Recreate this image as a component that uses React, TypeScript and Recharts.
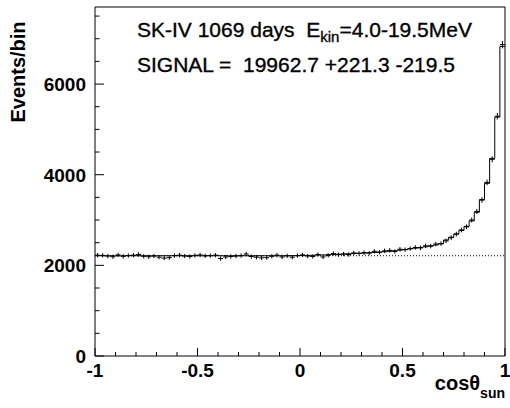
import React from 'react'
import { ComposedChart, Line, Scatter, ErrorBar, XAxis, YAxis, ReferenceLine } from 'recharts'

// 80 bins in cos(theta_sun), width 0.025
const BIN_LO = -1
const BIN_W = 0.025
const BACKGROUND = 2212

// fitted histogram (background + solar signal), per bin
const FIT = [
  2212, 2212, 2212, 2212, 2212, 2212, 2212, 2212, 2212, 2212,
  2212, 2212, 2212, 2212, 2212, 2212, 2212, 2212, 2212, 2212,
  2212, 2212, 2212, 2212, 2212, 2212, 2212, 2212, 2212, 2212,
  2212, 2212, 2212, 2212, 2212, 2212, 2212, 2212, 2213, 2214,
  2215, 2218, 2222, 2226, 2230, 2235, 2240, 2245, 2250, 2255,
  2260, 2265, 2270, 2278, 2285, 2293, 2300, 2310, 2322, 2335,
  2350, 2365, 2380, 2395, 2410, 2430, 2450, 2475, 2560, 2620,
  2690, 2770, 2860, 2980, 3170, 3450, 3810, 4360, 5270, 6830,
]

// observed events per bin
const EVENTS = [
  2225, 2220, 2205, 2190, 2230, 2200, 2215, 2225, 2240, 2200,
  2190, 2205, 2180, 2160, 2170, 2215, 2225, 2205, 2195, 2220,
  2230, 2210, 2215, 2225, 2150, 2185, 2195, 2205, 2215, 2250,
  2195, 2180, 2165, 2170, 2200, 2225, 2185, 2210, 2180, 2215,
  2230, 2205, 2195, 2240, 2185, 2220, 2260, 2235, 2250, 2240,
  2275, 2265, 2280, 2270, 2310, 2290, 2320, 2330, 2305, 2355,
  2345, 2370, 2395, 2385, 2430, 2425, 2470, 2480, 2540, 2610,
  2690, 2780, 2850, 3000, 3190, 3440, 3830, 4340, 5290, 6870,
]

const X_MAJOR = [-1, -0.5, 0, 0.5, 1]
const X_MINOR = [-0.9, -0.8, -0.7, -0.6, -0.4, -0.3, -0.2, -0.1, 0.1, 0.2, 0.3, 0.4, 0.6, 0.7, 0.8, 0.9]
const Y_MAJOR = [0, 2000, 4000, 6000]
const Y_MINOR = [500, 1000, 1500, 2500, 3000, 3500, 4500, 5000, 5500, 6500, 7000, 7500]
const Y_MAX = 7700

const X_TICKS = [...X_MAJOR, ...X_MINOR].sort((a, b) => a - b)
const Y_TICKS = [...Y_MAJOR, ...Y_MINOR].sort((a, b) => a - b)

const points = EVENTS.map((v, i) => ({
  x: BIN_LO + (i + 0.5) * BIN_W,
  y: v,
  ey: Math.sqrt(v),
  ex: BIN_W / 2,
}))

const edges = [
  ...FIT.map((v, i) => ({ x: BIN_LO + i * BIN_W, fit: v })),
  { x: BIN_LO + FIT.length * BIN_W, fit: FIT[FIT.length - 1] },
]

const FONT = '"Liberation Sans", Arial, Helvetica, sans-serif'

const fmt = (v: number) => (v < 0 ? '-' + Math.abs(v) : String(v))

// ROOT-style ticks: drawn inside the frame, labels only on majors
function FrameTick(props: any) {
  const { x, y, payload, side } = props
  const v = payload.value
  const isX = side === 'bottom' || side === 'top'
  const major = isX ? X_MAJOR.includes(v) : Y_MAJOR.includes(v)
  const len = isX ? (major ? 8 : 4) : (major ? 9 : 4.5)
  let line
  if (side === 'bottom') line = <line x1={x} y1={y} x2={x} y2={y - len} stroke="#000" />
  else if (side === 'top') line = <line x1={x} y1={y} x2={x} y2={y + len} stroke="#000" />
  else if (side === 'left') line = <line x1={x} y1={y} x2={x + len} y2={y} stroke="#000" />
  else line = <line x1={x} y1={y} x2={x - len} y2={y} stroke="#000" />
  let label = null
  if (major && side === 'bottom') {
    label = (
      <text x={x} y={y + 21} textAnchor="middle" fontFamily={FONT} fontWeight="bold" fontSize={19} fill="#000">
        {fmt(v)}
      </text>
    )
  } else if (major && side === 'left') {
    label = (
      <text x={x - 9} y={y + 7} textAnchor="end" fontFamily={FONT} fontWeight="bold" fontSize={19} fill="#000">
        {fmt(v)}
      </text>
    )
  }
  return (
    <g>
      {line}
      {label}
    </g>
  )
}

const axisLine = { stroke: '#000' }

export default function App() {
  return (
    <div style={{ position: 'absolute', left: 0, top: 0, background: '#fff' }}>
      <ComposedChart width={510} height={408} margin={{ top: 7, right: 5, bottom: 0, left: 0 }}>
        <XAxis xAxisId="b" type="number" dataKey="x" domain={[-1, 1]} ticks={X_TICKS} interval={0}
          tickSize={0} tickMargin={0} tickLine={false} axisLine={axisLine} height={52} allowDataOverflow
          tick={(p: any) => <FrameTick {...p} side="bottom" />}
          label={{
            content: () => (
              <text x={505} y={390} textAnchor="end" fontFamily={FONT} fontWeight="bold" fill="#000">
                <tspan fontSize={20}>cosθ</tspan>
                <tspan fontSize={14} dy={8}>sun</tspan>
              </text>
            ),
          }}
        />
        <XAxis xAxisId="t" orientation="top" type="number" dataKey="x" domain={[-1, 1]} ticks={X_TICKS} interval={0}
          tickSize={0} tickMargin={0} tickLine={false} axisLine={axisLine} height={0} allowDataOverflow
          tick={(p: any) => <FrameTick {...p} side="top" />} />

        <YAxis yAxisId="l" type="number" domain={[0, Y_MAX]} ticks={Y_TICKS} interval={0}
          tickSize={0} tickMargin={0} tickLine={false} axisLine={axisLine} width={95} allowDataOverflow
          tick={(p: any) => <FrameTick {...p} side="left" />}
          label={{
            content: () => (
              <text x={0} y={0} transform="translate(25,72) rotate(-90)" textAnchor="middle"
                fontFamily={FONT} fontWeight="bold" fontSize={20} fill="#000">
                Events/bin
              </text>
            ),
          }}
        />
        <YAxis yAxisId="r" orientation="right" type="number" domain={[0, Y_MAX]} ticks={Y_TICKS} interval={0}
          tickSize={0} tickMargin={0} tickLine={false} axisLine={axisLine} width={0} allowDataOverflow
          tick={(p: any) => <FrameTick {...p} side="right" />} />

        {/* frame: top and right edges */}
        <ReferenceLine xAxisId="b" yAxisId="l" y={Y_MAX} stroke="#000" />
        <ReferenceLine xAxisId="b" yAxisId="l" x={1} stroke="#000" />

        <ReferenceLine xAxisId="b" yAxisId="l" y={BACKGROUND} stroke="#000" strokeDasharray="1 2" />

        {/* keeps the top/right frame axes bound to data */}
        <Line xAxisId="t" yAxisId="r" data={edges} dataKey="fit" stroke="none" dot={false}
          activeDot={false} isAnimationActive={false} />

        <Line xAxisId="b" yAxisId="l" data={edges} dataKey="fit" type="stepAfter" stroke="#000"
          strokeWidth={1} dot={false} isAnimationActive={false} />

        <Scatter xAxisId="b" yAxisId="l" data={points} dataKey="y" shape={() => <g />} isAnimationActive={false}>
          <ErrorBar dataKey="ey" direction="y" width={0} stroke="#000" strokeWidth={1} />
          <ErrorBar dataKey="ex" direction="x" width={0} stroke="#000" strokeWidth={1} />
        </Scatter>

        <text x={137} y={37} fontFamily={FONT} fontSize={21} fill="#000" stroke="#000" strokeWidth={0.35}
          style={{ whiteSpace: 'pre' }}>
          <tspan>SK-IV 1069 days  E</tspan>
          <tspan fontSize={15} dy={5}>kin</tspan>
          <tspan dy={-5}>=4.0-19.5MeV</tspan>
        </text>
        <text x={137} y={72} fontFamily={FONT} fontSize={21} fill="#000" stroke="#000" strokeWidth={0.35}
          style={{ whiteSpace: 'pre' }}>
          SIGNAL =  19962.7 +221.3 -219.5
        </text>
      </ComposedChart>
    </div>
  )
}
